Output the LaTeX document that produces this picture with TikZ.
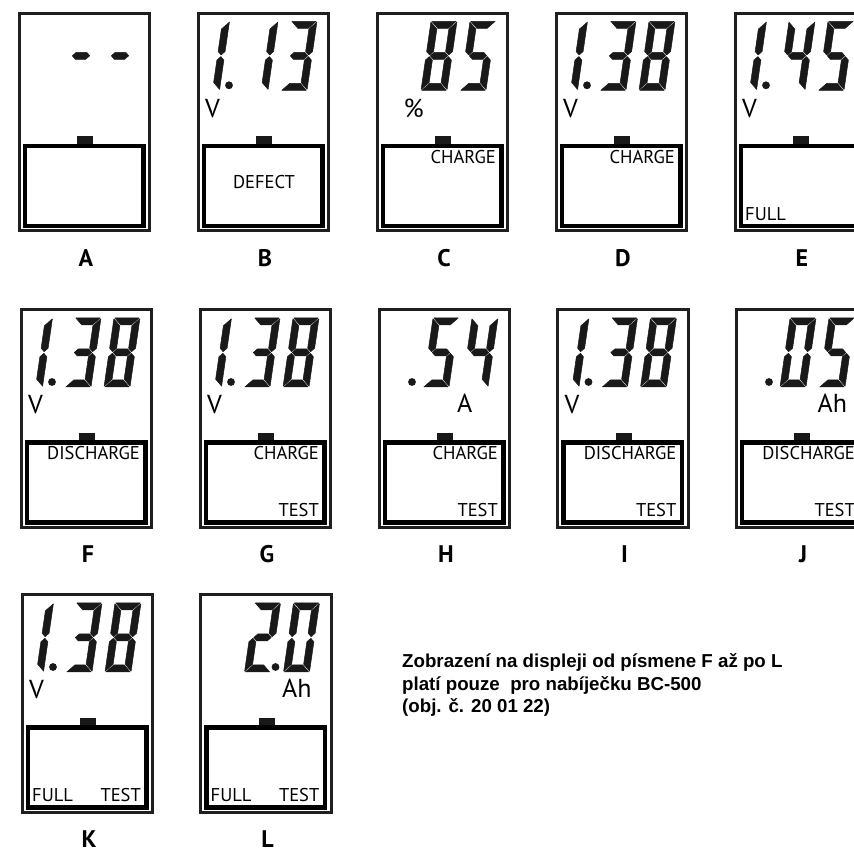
\documentclass[tikz,border=0pt]{standalone}
\usepackage{fontspec}
\newfontfamily\lcdfont{PT Sans}
\newfontfamily\notefont{Liberation Sans}

\tikzset{
  lcdframe/.style={draw=black!88, line width=3pt},
  battbox/.style={draw=black, line width=4.5pt},
  lcdseg/.style={fill=black!90, draw=black!90, line width=0.5pt, line join=round},
  % segments of one digit cell, 26 wide and 69 high before slanting
  seg a/.style={insert path={(0.8,69) -- (25.2,69) -- (18.2,62) -- (7.8,62) -- cycle}},
  seg d/.style={insert path={(0.8,0) -- (25.2,0) -- (18.2,7) -- (7.8,7) -- cycle}},
  seg g/.style={insert path={(4.3,34.5) -- (7.8,38) -- (18.2,38) -- (21.7,34.5) -- (18.2,31) -- (7.8,31) -- cycle}},
  seg f/.style={insert path={(0,68.2) -- (7,61.2) -- (7,38.8) -- (3.5,35.3) -- (0,38.8) -- cycle}},
  seg e/.style={insert path={(0,0.8) -- (7,7.8) -- (7,30.2) -- (3.5,33.7) -- (0,30.2) -- cycle}},
  seg b/.style={insert path={(26,68.2) -- (19,61.2) -- (19,38.8) -- (22.5,35.3) -- (26,38.8) -- cycle}},
  seg c/.style={insert path={(26,0.8) -- (19,7.8) -- (19,30.2) -- (22.5,33.7) -- (26,30.2) -- cycle}},
  unit/.style={font=\lcdfont\fontsize{26}{26}\selectfont, inner sep=0pt, anchor=base west},
  boxtext/.style={font=\lcdfont\fontsize{18.5}{18.5}\selectfont, inner sep=0pt},
  paneltag/.style={font=\lcdfont\bfseries\fontsize{24}{24}\selectfont, inner sep=0pt, anchor=base},
  note/.style={font=\notefont\bfseries\fontsize{18.7}{18.7}\selectfont, inner sep=0pt, anchor=base west}
}

% segment lists of the digits
\def\dgzero{a,b,c,d,e,f}
\def\dgone{b,c}
\def\dgtwo{a,b,g,e,d}
\def\dgthree{a,b,g,c,d}
\def\dgfour{f,g,b,c}
\def\dgfive{a,f,g,c,d}
\def\dgeight{a,b,c,d,e,f,g}
\def\dgdash{g}

\newcommand{\lcddigit}[2]{%
  \begin{scope}[shift={(#1,-77)}, xslant=0.145]
    \foreach \s in #2 {\filldraw[lcdseg, seg \s];}
  \end{scope}}
\newcommand{\lcddot}[1]{\fill[black!90] (#1,-72) circle (3.9);}

\newcommand{\lcdpanel}[4]{%
  \begin{scope}[shift={(#2,#3)}]
    \draw[lcdframe] (0,0) rectangle (130.5,-217.5);
    \draw[battbox] (6,-132.5) rectangle (124.5,-212.5);
    \fill[black!90] (58,-123) rectangle (74,-130.5);
    \node[paneltag] (tag#1) at (67,-253) {#1};
    #4
  \end{scope}}

\begin{document}
\begin{tikzpicture}[x=1pt,y=1pt]
\useasboundingbox (0,0) rectangle (854,854);
\clip (0,0) rectangle (854,854);

% first row
\lcdpanel{A}{19}{840.7}{
  \lcddigit{44}{\dgdash} \lcddigit{83}{\dgdash}
}
\lcdpanel{B}{198}{840.7}{
  \lcddigit{-4.5}{\dgone} \lcddot{31} \lcddigit{44}{\dgone} \lcddigit{83}{\dgthree}
  \node[unit] (unitB) at (7,-104) {V};
  \node[boxtext] (modeB) at (66,-168.5) {DEFECT};
}
\lcdpanel{C}{377}{840.7}{
  \lcddigit{44}{\dgeight} \lcddigit{83}{\dgfive}
  \node[unit] (unitC) at (26.5,-104) {\%};
  \node[boxtext, anchor=north east] (modeC) at (119,-136.5) {CHARGE};
}
\lcdpanel{D}{556}{840.7}{
  \lcddigit{-4.5}{\dgone} \lcddot{31} \lcddigit{44}{\dgthree} \lcddigit{83}{\dgeight}
  \node[unit] (unitD) at (7,-104) {V};
  \node[boxtext, anchor=north east] (modeD) at (119,-136.5) {CHARGE};
}
\lcdpanel{E}{735}{840.7}{
  \lcddigit{-4.5}{\dgone} \lcddot{31} \lcddigit{44}{\dgfour} \lcddigit{83}{\dgfive}
  \node[unit] (unitE) at (7,-104) {V};
  \node[boxtext, anchor=base west] (fullE) at (10,-207) {FULL};
}

% second row
\lcdpanel{F}{21}{544}{
  \lcddigit{-4.5}{\dgone} \lcddot{31} \lcddigit{44}{\dgthree} \lcddigit{83}{\dgeight}
  \node[unit] (unitF) at (7,-104) {V};
  \node[boxtext, anchor=north east] (modeF) at (119,-136.5) {DISCHARGE};
}
\lcdpanel{G}{200}{544}{
  \lcddigit{-4.5}{\dgone} \lcddot{31} \lcddigit{44}{\dgthree} \lcddigit{83}{\dgeight}
  \node[unit] (unitG) at (7,-104) {V};
  \node[boxtext, anchor=north east] (modeG) at (119,-136.5) {CHARGE};
  \node[boxtext, anchor=base east] (testG) at (119,-207) {TEST};
}
\lcdpanel{H}{379}{544}{
  \lcddot{33} \lcddigit{44}{\dgfive} \lcddigit{83}{\dgfour}
  \node[unit] (unitH) at (78,-103) {A};
  \node[boxtext, anchor=north east] (modeH) at (119,-136.5) {CHARGE};
  \node[boxtext, anchor=base east] (testH) at (119,-207) {TEST};
}
\lcdpanel{I}{557.5}{544}{
  \lcddigit{-4.5}{\dgone} \lcddot{31} \lcddigit{44}{\dgthree} \lcddigit{83}{\dgeight}
  \node[unit] (unitI) at (7,-104) {V};
  \node[boxtext, anchor=north east] (modeI) at (119,-136.5) {DISCHARGE};
  \node[boxtext, anchor=base east] (testI) at (119,-207) {TEST};
}
\lcdpanel{J}{736}{544}{
  \lcddot{33} \lcddigit{44}{\dgzero} \lcddigit{83}{\dgfive}
  \node[unit] (unitJ) at (81.5,-103) {Ah};
  \node[boxtext, anchor=north east] (modeJ) at (119,-136.5) {DISCHARGE};
  \node[boxtext, anchor=base east] (testJ) at (119,-207) {TEST};
}

% third row
\lcdpanel{K}{22}{259}{
  \lcddigit{-4.5}{\dgone} \lcddot{31} \lcddigit{44}{\dgthree} \lcddigit{83}{\dgeight}
  \node[unit] (unitK) at (7,-104) {V};
  \node[boxtext, anchor=base west] (fullK) at (10,-207) {FULL};
  \node[boxtext, anchor=base east] (testK) at (119,-207) {TEST};
}
\lcdpanel{L}{200.5}{259}{
  \lcddigit{44}{\dgtwo} \lcddot{75} \lcddigit{83}{\dgzero}
  \node[unit] (unitL) at (81.5,-103) {Ah};
  \node[boxtext, anchor=base west] (fullL) at (10,-207) {FULL};
  \node[boxtext, anchor=base east] (testL) at (119,-207) {TEST};
}

% remark
\node[note] (note1) at (402,186) {Zobrazení na displeji od písmene F až po L};
\node[note] (note2) at (402,163.5) {platí pouze\ \ pro nabíječku BC-500};
\node[note] (note3) at (402,141) {(obj. č. 20 01 22)};
\end{tikzpicture}
\end{document}
